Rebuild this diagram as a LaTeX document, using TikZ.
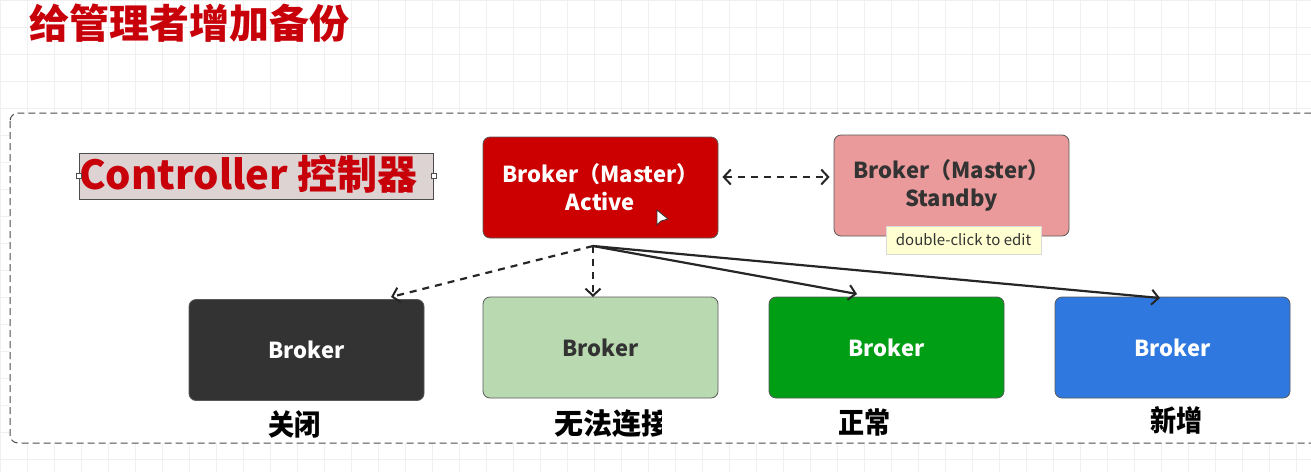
\documentclass[tikz,border=0pt]{standalone}
\usepackage{fontspec}
\setmainfont{Noto Sans CJK SC}
\usetikzlibrary{arrows.meta}
\definecolor{titlered}{HTML}{C8000A}
\definecolor{activered}{HTML}{CC0000}
\definecolor{standbypink}{HTML}{EA9A9A}
\definecolor{ctrlbg}{HTML}{DDD3D3}
\definecolor{darkbox}{HTML}{333333}
\definecolor{lightgreen}{HTML}{B9DAB0}
\definecolor{okgreen}{HTML}{009E14}
\definecolor{newblue}{HTML}{2F78E0}
\definecolor{tipyellow}{HTML}{FFFFD2}
\definecolor{gridline}{HTML}{F0F0F0}
\definecolor{textdark}{HTML}{333333}
\begin{document}
\begin{tikzpicture}[x=1pt,y=-1pt,
  box/.style={draw=black!65, line width=0.8pt, rounded corners=7pt,
    minimum width=235pt, minimum height=101pt, inner sep=0pt, align=center,
    font=\bfseries\fontsize{22}{28}\selectfont},
  small/.style={font=\bfseries\fontsize{22}{26}\selectfont},
  conn/.style={line width=2.2pt, draw=black!85},
  tip/.style={-{Straight Barb[length=7pt,width=15pt,line width=2pt]}},
  dsh/.style={dash pattern=on 7pt off 6pt},
  lab/.style={font=\bfseries\fontsize{29}{32}\selectfont, inner sep=0pt, anchor=west},
  handle/.style={draw=black!70, fill=white, line width=0.6pt, minimum size=5pt, inner sep=0pt}
]
\clip (0,0) rectangle (1311,472);
\useasboundingbox (0,0) rectangle (1311,472);
\fill[white] (0,0) rectangle (1311,472);
% faint grid
\foreach \gx in {0,27,...,1311} \draw[gridline, line width=0.8pt] (\gx,0) -- (\gx,472);
\foreach \gy in {0,27,...,472} \draw[gridline, line width=0.8pt] (0,\gy) -- (1311,\gy);
% frame
\draw[black!70, line width=1pt, dash pattern=on 7pt off 4pt, rounded corners=8pt, fill=white]
  (10,113) rectangle (1330,443);
% title
\node[anchor=west, inner sep=0pt, text=titlered, font=\bfseries\fontsize{40}{44}\selectfont] (title) at (29,23) {给管理者增加备份};
% controller label
\node[draw=black!70, fill=ctrlbg, line width=1pt, minimum width=354pt, minimum height=46pt, inner sep=0pt] (ctrl) at (256,176) {};
\node[anchor=west, inner sep=0pt, text=titlered, font=\bfseries\fontsize{40}{44}\selectfont] (ctrltext) at (79,174) {Controller 控制器};
\node[handle] (h1) at (ctrl.west) {};
\node[handle] (h2) at (ctrl.east) {};
% master brokers
\node[box, fill=activered, text=white] (active) at (600.5,187.5) {Broker（Master）\\Active};
\node[box, fill=standbypink, text=textdark] (standby) at (951.5,185.5) {Broker（Master）\\Standby};
\node[draw=black!15, fill=tipyellow, inner xsep=6pt, minimum width=155pt, minimum height=28pt, text=textdark,
  font=\fontsize{15}{17}\selectfont] (tipnode) at (963.5,240) {double-click to edit};
% cursor
\filldraw[fill=white, draw=black!80, line width=0.8pt] (657,210) -- (657,225) -- (661,221) -- (668,219) -- cycle;
% worker brokers
\node[box, small, fill=darkbox, text=white] (b1) at (306.5,350) {Broker};
\node[box, small, fill=lightgreen, text=textdark] (b2) at (600.5,347.5) {Broker};
\node[box, small, fill=okgreen, text=white] (b3) at (886.5,347.5) {Broker};
\node[box, small, fill=newblue, text=white] (b4) at (1172.5,347.5) {Broker};
% connectors
\coordinate (src) at (593,246);
\coordinate (e1) at (391,297);
\coordinate (e2) at (593,297);
\coordinate (e3) at (857,294);
\coordinate (e4) at (1160,298);
\draw[conn, dsh, {Straight Barb[length=7pt,width=15pt,line width=2pt]}-{Straight Barb[length=7pt,width=15pt,line width=2pt]}]
  ([xshift=4pt]active.east |- 0,177) -- ([xshift=-4pt]standby.west |- 0,177);
\draw[conn, dsh, tip] (src) -- (e1);
\draw[conn, dsh, tip] (src) -- (e2);
\draw[conn, tip] (src) -- (e3);
\draw[conn, tip] (src) -- (e4);
% state labels (clipped as in the picture)
\begin{scope}
\clip (260,400) rectangle (322,450);
\node[lab] (l1) at (268,424) {\scalebox{0.9}[1]{关闭}};
\end{scope}
\begin{scope}
\clip (550,400) rectangle (661,450);
\node[lab] (l2) at (554,424) {无法连接};
\end{scope}
\begin{scope}
\clip (830,400) rectangle (905,450);
\node[lab] (l3) at (838,422) {\scalebox{0.9}[1]{正常}};
\end{scope}
\begin{scope}
\clip (1140,400) rectangle (1207,450);
\node[lab] (l4) at (1150,420) {\scalebox{0.9}[1]{新增}};
\end{scope}
\end{tikzpicture}
\end{document}
